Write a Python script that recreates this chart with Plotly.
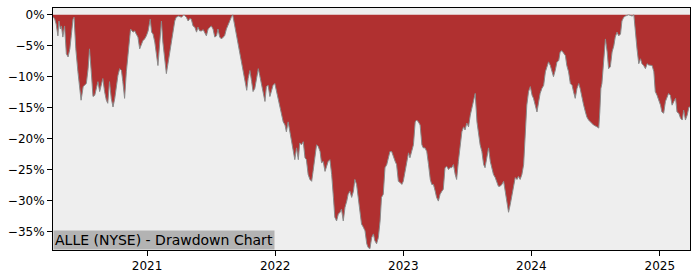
import plotly.graph_objects as go
import pandas as pd

# ---- data (drawdown in %) ----
dates_2020 = ["2020-04-08","2020-04-13","2020-04-17","2020-04-22","2020-04-25","2020-04-29","2020-05-02","2020-05-06",
              "2020-05-11","2020-05-16","2020-05-21","2020-05-26","2020-05-30","2020-06-04","2020-06-07","2020-06-12",
              "2020-06-18","2020-06-23","2020-06-27","2020-07-03","2020-07-07","2020-07-12","2020-07-17","2020-07-21",
              "2020-07-26","2020-07-31","2020-08-05","2020-08-10","2020-08-14","2020-08-19","2020-08-24","2020-08-28",
              "2020-09-02","2020-09-07","2020-09-11","2020-09-16","2020-09-21","2020-09-26","2020-10-01","2020-10-05",
              "2020-10-10","2020-10-15","2020-10-20","2020-10-24","2020-10-29","2020-11-03","2020-11-08","2020-11-12",
              "2020-11-15","2020-11-22","2020-11-27","2020-12-01","2020-12-06","2020-12-11","2020-12-16","2020-12-20",
              "2020-12-25","2020-12-30"]
dd_2020 = [-0.3,-0.7,-1.5,-3.4,-1.0,-2.3,-1.8,-3.6,
           -1.8,-6.3,-6.8,-5.5,-3.4,-0.7,-0.4,-5.5,
           -9.2,-11.4,-13.8,-11.6,-11.4,-11.1,-8.7,-5.5,
           -9.2,-13.2,-13.0,-11.4,-10.8,-12.4,-11.1,-10.3,
           -12.4,-13.8,-14.3,-10.8,-13.5,-14.9,-13.5,-11.4,
           -9.8,-8.7,-9.0,-10.8,-13.5,-9.2,-6.0,-3.4,
           -2.3,-2.8,-2.6,-3.1,-3.6,-5.5,-4.7,-4.2,
           -3.9,-3.4]

dates_2021 = ["2021-01-04","2021-01-10","2021-01-14","2021-01-18","2021-01-23","2021-01-27","2021-02-01","2021-02-11",
              "2021-02-15","2021-02-25","2021-03-02","2021-03-06","2021-03-11","2021-03-16","2021-03-21","2021-03-25",
              "2021-04-01","2021-04-09","2021-04-16","2021-04-23","2021-04-28","2021-05-03","2021-05-07","2021-05-12",
              "2021-05-17","2021-05-22","2021-05-26","2021-05-31","2021-06-05","2021-06-10","2021-06-14","2021-06-19",
              "2021-06-24","2021-06-29","2021-07-03","2021-07-08","2021-07-13","2021-07-18","2021-07-22","2021-07-27",
              "2021-08-01","2021-08-06","2021-08-10","2021-08-15","2021-08-20","2021-08-25","2021-08-29","2021-09-02",
              "2021-09-08","2021-09-13","2021-09-17","2021-09-22","2021-09-27","2021-10-02","2021-10-06","2021-10-12",
              "2021-10-16","2021-10-21","2021-10-26","2021-10-30","2021-11-04","2021-11-09","2021-11-14","2021-11-18",
              "2021-11-23","2021-11-28","2021-12-03","2021-12-07","2021-12-12","2021-12-17","2021-12-22","2021-12-26",
              "2021-12-31"]
dd_2021 = [-2.6,-0.7,-2.8,-3.1,-4.4,-6.6,-8.2,-1.0,
           -4.4,-9.5,-7.6,-6.0,-4.4,-2.3,-1.0,-0.4,
           -0.2,-0.4,0.0,-0.4,-1.0,-0.6,-0.7,-1.8,
           -2.0,-2.8,-2.0,-2.6,-2.6,-2.4,-2.8,-3.4,
           -2.3,-2.0,-1.8,-2.3,-3.6,-3.4,-2.3,-3.6,
           -3.9,-3.6,-3.4,-2.3,-1.5,-1.0,-0.4,0.0,
           -1.8,-3.6,-5.0,-6.6,-7.9,-9.2,-10.8,-12.2,
           -10.3,-9.0,-10.8,-12.4,-11.9,-10.3,-8.7,-9.8,
           -11.4,-13.0,-14.0,-11.6,-11.4,-13.2,-12.4,-11.4,
           -11.1]

dates_2022 = ["2022-01-05","2022-01-10","2022-01-14","2022-01-19","2022-01-24","2022-01-29","2022-02-02","2022-02-07",
              "2022-02-12","2022-02-17","2022-02-21","2022-02-26","2022-03-03","2022-03-08","2022-03-12","2022-03-17",
              "2022-03-22","2022-03-27","2022-03-31","2022-04-05","2022-04-10","2022-04-15","2022-04-19","2022-04-24",
              "2022-04-29","2022-05-04","2022-05-09","2022-05-13","2022-05-18","2022-05-23","2022-05-28","2022-06-01",
              "2022-06-06","2022-06-11","2022-06-16","2022-06-20","2022-06-25","2022-06-30","2022-07-05","2022-07-09",
              "2022-07-14","2022-07-19","2022-07-24","2022-07-28","2022-08-02","2022-08-07","2022-08-12","2022-08-16",
              "2022-08-21","2022-08-26","2022-08-31","2022-09-04","2022-09-09","2022-09-14","2022-09-19","2022-09-23",
              "2022-09-28","2022-10-03","2022-10-08","2022-10-12","2022-10-17","2022-10-22","2022-10-27","2022-10-31",
              "2022-11-05","2022-11-10","2022-11-15","2022-11-20","2022-11-24","2022-11-29","2022-12-04","2022-12-09",
              "2022-12-13","2022-12-18","2022-12-23","2022-12-28"]
dd_2022 = [-12.4,-13.8,-14.6,-16.2,-17.3,-17.8,-18.9,-17.3,
           -18.9,-20.5,-22.1,-23.4,-21.5,-23.4,-20.7,-21.0,
           -20.5,-23.1,-23.4,-25.8,-26.6,-26.9,-25.3,-22.6,
           -21.0,-21.3,-22.1,-23.9,-23.7,-25.3,-24.5,-23.7,
           -23.4,-25.8,-29.5,-32.7,-33.3,-32.2,-31.9,-31.4,
           -33.3,-31.1,-30.1,-29.0,-28.5,-29.5,-28.5,-26.6,
           -27.4,-29.5,-31.7,-33.8,-34.3,-34.9,-37.0,-37.6,
           -37.8,-36.0,-35.4,-36.5,-37.0,-36.0,-33.3,-29.5,
           -29.0,-24.7,-24.2,-23.1,-22.1,-22.1,-23.1,-23.7,
           -24.2,-26.9,-27.1,-27.4]

dates_2023 = ["2023-01-01","2023-01-06","2023-01-11","2023-01-16","2023-01-20","2023-01-25","2023-01-30","2023-02-04",
              "2023-02-08","2023-02-13","2023-02-18","2023-02-23","2023-02-27","2023-03-04","2023-03-09","2023-03-14",
              "2023-03-19","2023-03-23","2023-03-28","2023-04-02","2023-04-06","2023-04-11","2023-04-16","2023-04-21",
              "2023-04-25","2023-04-30","2023-05-05","2023-05-10","2023-05-14","2023-05-19","2023-05-24","2023-05-29",
              "2023-06-02","2023-06-07","2023-06-12","2023-06-17","2023-06-22","2023-06-26","2023-07-01","2023-07-06",
              "2023-07-11","2023-07-15","2023-07-20","2023-07-25","2023-07-30","2023-08-03","2023-08-08","2023-08-13",
              "2023-08-18","2023-08-22","2023-08-27","2023-09-01","2023-09-06","2023-09-10","2023-09-15","2023-09-20",
              "2023-09-25","2023-09-29","2023-10-04","2023-10-09","2023-10-14","2023-10-18","2023-10-23","2023-10-28",
              "2023-11-02","2023-11-06","2023-11-11","2023-11-16","2023-11-21","2023-11-25","2023-11-30","2023-12-05",
              "2023-12-10","2023-12-14","2023-12-19","2023-12-24","2023-12-29"]
dd_2023 = [-26.9,-25.3,-23.7,-22.3,-23.1,-22.1,-21.0,-17.3,
           -17.0,-17.3,-17.8,-21.0,-21.5,-21.5,-22.1,-24.2,
           -26.6,-27.4,-27.4,-28.5,-29.5,-30.1,-29.0,-28.5,
           -28.2,-24.7,-24.5,-25.0,-24.7,-24.7,-24.2,-25.8,
           -26.6,-23.7,-21.0,-18.9,-18.1,-18.6,-17.5,-18.1,
           -16.2,-15.1,-13.8,-12.7,-17.3,-18.9,-21.0,-22.1,
           -24.2,-24.7,-23.1,-21.5,-23.7,-24.7,-25.8,-26.3,
           -27.1,-27.7,-27.7,-27.4,-26.9,-28.5,-30.6,-31.9,
           -30.6,-29.3,-28.2,-26.3,-26.6,-26.1,-26.6,-25.8,
           -24.2,-19.9,-14.6,-12.4,-11.6]

dates_2024 = ["2024-01-03","2024-01-07","2024-01-12","2024-01-17","2024-01-22","2024-01-26","2024-01-31","2024-02-05",
              "2024-02-10","2024-02-14","2024-02-19","2024-02-24","2024-02-29","2024-03-04","2024-03-09","2024-03-14",
              "2024-03-19","2024-03-23","2024-03-28","2024-04-02","2024-04-07","2024-04-11","2024-04-16","2024-04-21",
              "2024-04-26","2024-04-30","2024-05-05","2024-05-10","2024-05-15","2024-05-19","2024-05-24","2024-05-29",
              "2024-06-03","2024-06-07","2024-06-12","2024-06-17","2024-06-22","2024-06-26","2024-07-06","2024-07-11",
              "2024-07-14","2024-07-17","2024-07-20","2024-07-25","2024-07-30","2024-08-04","2024-08-08","2024-08-13",
              "2024-08-18","2024-08-23","2024-08-27","2024-09-01","2024-09-06","2024-09-11","2024-09-15","2024-09-20",
              "2024-09-25","2024-10-04","2024-10-14","2024-10-19","2024-10-23","2024-10-28","2024-11-02","2024-11-07",
              "2024-11-11","2024-11-16","2024-11-21","2024-11-26","2024-11-30","2024-12-05","2024-12-10","2024-12-15",
              "2024-12-19","2024-12-24","2024-12-29"]
dd_2024 = [-13.0,-13.5,-14.6,-15.7,-14.0,-12.7,-11.9,-11.4,
           -9.2,-8.4,-7.6,-8.2,-9.2,-10.0,-9.0,-7.6,
           -7.4,-6.0,-5.8,-6.3,-6.6,-8.2,-9.2,-11.1,
           -11.4,-12.4,-13.5,-11.9,-11.1,-11.9,-13.5,-14.6,
           -15.7,-16.5,-17.0,-17.3,-17.5,-17.8,-18.1,-18.3,
           -15.7,-11.9,-11.1,-7.6,-3.9,-6.0,-8.7,-8.4,
           -6.0,-5.0,-3.6,-2.8,-3.4,-3.1,-1.0,-0.4,
           -0.2,0.0,-0.2,0.0,-2.8,-5.5,-7.9,-7.1,
           -7.9,-8.2,-8.7,-7.9,-8.1,-8.2,-8.2,-9.2,
           -12.4,-13.0,-13.8]

dates_2025 = ["2025-01-03","2025-01-07","2025-01-12","2025-01-17","2025-01-22","2025-01-26","2025-01-31","2025-02-05",
              "2025-02-10","2025-02-15","2025-02-19","2025-02-24","2025-03-01","2025-03-06","2025-03-10","2025-03-15",
              "2025-03-20","2025-03-25","2025-03-28"]
dd_2025 = [-14.6,-15.7,-15.9,-14.0,-13.2,-12.7,-13.0,-14.6,
           -14.0,-13.5,-15.7,-15.9,-16.7,-17.0,-15.4,-17.0,
           -16.2,-14.9,-14.9]

x_ticks = ["2021-01-01", "2022-01-01", "2023-01-01", "2024-01-01", "2025-01-01"]
x_labels = ["2021", "2022", "2023", "2024", "2025"]
y_ticks = [0, -5, -10, -15, -20, -25, -30, -35]
y_labels = ["0%", "\u22125%", "\u221210%", "\u221215%", "\u221220%", "\u221225%", "\u221230%", "\u221235%"]
title_text = "ALLE (NYSE) - Drawdown Chart"

dates = dates_2020 + dates_2021 + dates_2022 + dates_2023 + dates_2024 + dates_2025
drawdown = dd_2020 + dd_2021 + dd_2022 + dd_2023 + dd_2024 + dd_2025
assert len(dates) == len(drawdown)

fig = go.Figure()
fig.add_trace(go.Scatter(
    x=pd.to_datetime(dates), y=drawdown, mode="lines",
    line=dict(color="#8a8a8a", width=1),
    fill="tozeroy", fillcolor="#b03030",
    hoverinfo="skip", showlegend=False,
))

axis_common = dict(
    showgrid=False, zeroline=False, showline=True, linecolor="black", linewidth=1,
    mirror=True, ticks="outside", ticklen=5, tickwidth=1, tickcolor="black",
    tickfont=dict(family="DejaVu Sans", size=12, color="black"),
)

fig.update_layout(
    width=700, height=280,
    margin=dict(l=53, r=10, t=7, b=28),
    paper_bgcolor="white", plot_bgcolor="#eeeeee",
    font=dict(family="DejaVu Sans", color="black"),
    xaxis=dict(type="date", range=[dates[0], dates[-1]],
               tickmode="array", tickvals=x_ticks, ticktext=x_labels, **axis_common),
    yaxis=dict(range=[-38.0, 1.1], tickmode="array", tickvals=y_ticks, ticktext=y_labels,
               **axis_common),
    annotations=[dict(
        text=title_text, xref="paper", yref="paper", x=0, y=0,
        xanchor="left", yanchor="bottom", showarrow=False,
        font=dict(family="DejaVu Sans", size=14, color="black"),
        bgcolor="#b3b3b3", borderpad=1,
    )],
)

fig.write_html("out.html", config={"displayModeBar": False})
